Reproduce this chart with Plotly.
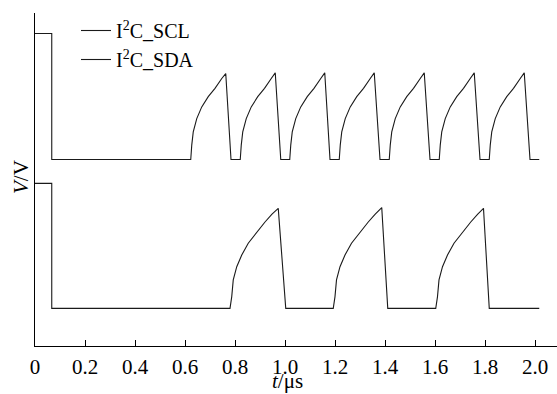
import plotly.graph_objects as go

# ---- data (time in µs, voltage in V, SCL trace offset upward) ----
scl_t = [0.000, 0.067, 0.067, 0.623,
         0.627, 0.633, 0.647, 0.667, 0.693, 0.720, 0.747, 0.763, 0.784, 0.821,
         0.825, 0.831, 0.845, 0.865, 0.891, 0.918, 0.945, 0.961, 0.983, 1.019,
         1.023, 1.029, 1.043, 1.063, 1.089, 1.116, 1.143, 1.159, 1.180, 1.217,
         1.221, 1.227, 1.241, 1.261, 1.287, 1.314, 1.341, 1.357, 1.380, 1.417,
         1.421, 1.427, 1.441, 1.461, 1.487, 1.514, 1.541, 1.557, 1.580, 1.617,
         1.621, 1.627, 1.641, 1.661, 1.687, 1.714, 1.741, 1.757, 1.780, 1.817,
         1.821, 1.827, 1.841, 1.861, 1.887, 1.914, 1.941, 1.957, 1.980, 2.017]
scl_v = [7.26, 7.26, 3.93, 3.93,
         4.31, 4.66, 5.01, 5.32, 5.59, 5.81, 6.07, 6.20, 3.93, 3.93,
         4.31, 4.66, 5.01, 5.32, 5.59, 5.81, 6.07, 6.22, 3.93, 3.93,
         4.31, 4.66, 5.01, 5.32, 5.59, 5.81, 6.07, 6.22, 3.93, 3.93,
         4.31, 4.66, 5.01, 5.32, 5.59, 5.81, 6.07, 6.22, 3.93, 3.93,
         4.31, 4.66, 5.01, 5.32, 5.59, 5.81, 6.07, 6.22, 3.93, 3.93,
         4.31, 4.66, 5.01, 5.32, 5.59, 5.81, 6.07, 6.22, 3.93, 3.93,
         4.31, 4.66, 5.01, 5.32, 5.59, 5.81, 6.07, 6.22, 3.93, 3.93]

sda_t = [0.000, 0.067, 0.067, 0.780,
         0.787, 0.793, 0.807, 0.827, 0.853, 0.887, 0.920, 0.948, 0.973, 1.003, 1.193,
         1.200, 1.206, 1.220, 1.240, 1.266, 1.300, 1.333, 1.361, 1.387, 1.411, 1.603,
         1.610, 1.616, 1.630, 1.650, 1.676, 1.710, 1.743, 1.771, 1.794, 1.817, 2.017]
sda_v = [3.30, 3.30, 0.00, 0.00,
         0.31, 0.75, 1.10, 1.41, 1.72, 2.02, 2.28, 2.49, 2.64, 0.00, 0.00,
         0.31, 0.75, 1.10, 1.41, 1.72, 2.02, 2.28, 2.49, 2.66, 0.00, 0.00,
         0.31, 0.75, 1.10, 1.41, 1.72, 2.02, 2.28, 2.49, 2.64, 0.00, 0.00]

x_tick_vals = [0, 0.2, 0.4, 0.6, 0.8, 1.0, 1.2, 1.4, 1.6, 1.8, 2.0]
x_tick_text = ["0", "0.2", "0.4", "0.6", "0.8", "1.0", "1.2", "1.4", "1.6", "1.8", "2.0"]
series_names = ["I<sup>2</sup>C_SCL", "I<sup>2</sup>C_SDA"]

FONT = "Liberation Serif, Times New Roman, serif"
W, H = 557, 394
L, R, T, B = 35, 0, 13, 48

fig = go.Figure()
fig.add_trace(go.Scatter(x=scl_t, y=scl_v, mode="lines", name=series_names[0],
                         line=dict(color="#1a1a1a", width=1.1), legendgroup="a"))
fig.add_trace(go.Scatter(x=sda_t, y=sda_v, mode="lines", name=series_names[1],
                         line=dict(color="#1a1a1a", width=1.1), legendgroup="b"))

def px_x(p):
    return (p - L) / (W - L - R)

def px_y(p):
    return (H - B - p) / (H - T - B)

fig.update_layout(
    width=W, height=H,
    margin=dict(l=L, r=R, t=T, b=B, pad=0, autoexpand=False),
    paper_bgcolor="white", plot_bgcolor="white",
    font=dict(family=FONT, color="black", size=20),
    showlegend=True,
    legend=dict(x=px_x(76), y=px_y(11), xanchor="left", yanchor="top",
                bgcolor="rgba(0,0,0,0)", font=dict(size=20, family=FONT),
                tracegroupgap=2, traceorder="normal"),
    xaxis=dict(range=[0, (W - L - R) / 250.0], showgrid=False, zeroline=False,
               showline=True, linecolor="black", linewidth=1, automargin=False,
               ticks="inside", ticklen=6, tickcolor="black", tickwidth=1,
               tickvals=x_tick_vals, ticktext=x_tick_text,
               tickfont=dict(size=21, family=FONT), ticklabelstandoff=2),
    yaxis=dict(range=[-0.995, 7.80], showgrid=False, zeroline=False,
               showline=True, linecolor="black", linewidth=1, automargin=False,
               showticklabels=False, ticks=""),
    annotations=[
        dict(text="<i>t</i>/\u03bcs", xref="paper", yref="paper",
             x=px_x(287), y=px_y(381), xanchor="center", yanchor="middle",
             showarrow=False, font=dict(size=21, family=FONT)),
        dict(text="<i>V</i>/V", xref="paper", yref="paper",
             x=px_x(21), y=px_y(177), xanchor="center", yanchor="middle",
             textangle=-90, showarrow=False, font=dict(size=21, family=FONT)),
    ],
)

fig.write_html("out.html", config={"displayModeBar": False},
               post_script="document.body.style.margin='0';document.body.style.padding='0';")
